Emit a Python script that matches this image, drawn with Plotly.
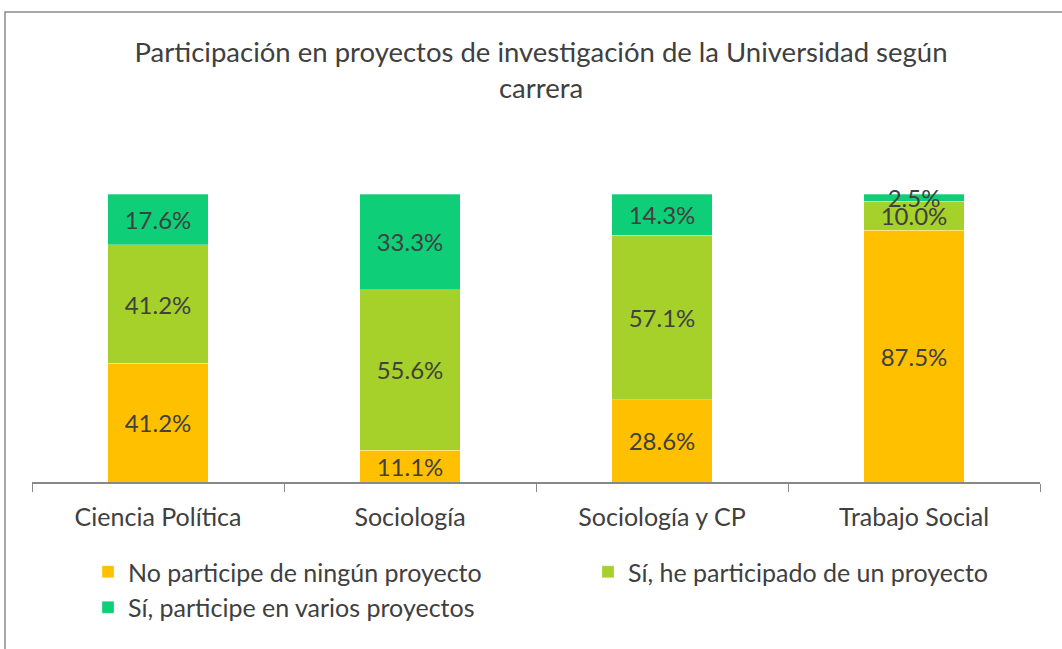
import plotly.graph_objects as go

categories = ["Ciencia Política", "Sociología", "Sociología y CP", "Trabajo Social"]
series_names = ["No participe de ningún proyecto",
                "Sí, he participado de un proyecto",
                "Sí, participe en varios proyectos"]
no_participe = [41.2, 11.1, 28.6, 87.5]
un_proyecto = [41.2, 55.6, 57.1, 10.0]
varios = [17.6, 33.3, 14.3, 2.5]
colors = ["#FFC000", "#A5D12A", "#0ECE78"]

W, H = 1062, 649
L, R, T, B = 32, 1040, 194, 482
pw, ph = R - L, B - T

fig = go.Figure()
for name, vals, col in zip(series_names, [no_participe, un_proyecto, varios], colors):
    fig.add_trace(go.Bar(
        x=categories, y=vals, name=name,
        marker=dict(color=col, line=dict(color="rgba(255,255,255,0.6)", width=0.5)),
        text=[f"{v:.1f}%" for v in vals],
        textposition="inside", insidetextanchor="middle",
        constraintext="none", cliponaxis=False,
        textfont=dict(family="Lato", size=24, color="#404040"),
        hoverinfo="skip",
    ))

def px_x(p):
    return (p - L) / pw

def px_y(p):
    return (B - p) / ph

fig.update_layout(
    width=W, height=H,
    barmode="stack", bargap=0.603,
    margin=dict(l=L, r=W - R, t=T, b=H - B, autoexpand=False),
    paper_bgcolor="white", plot_bgcolor="white",
    title=dict(
        text="Participación en proyectos de investigación de la Universidad según<br>carrera",
        x=541 / W, xanchor="center", xref="container",
        y=1 - 62 / H, yanchor="top", yref="container",
        font=dict(family="Lato", size=27.5, color="#404040"),
    ),
    xaxis=dict(
        showline=True, linecolor="#888888", linewidth=1.5,
        ticks="outside", tickson="boundaries", ticklen=8, tickcolor="#888888",
        tickfont=dict(family="Lato", size=25, color="#404040"),
        ticklabelstandoff=12, showgrid=False,
    ),
    yaxis=dict(range=[0, 100], visible=False, showgrid=False),
    legend=dict(
        orientation="h", xref="container", x=88 / W, xanchor="left",
        yref="container", y=1 - 549 / H, yanchor="top",
        entrywidth=455, entrywidthmode="pixels",
        font=dict(family="Lato", size=25, color="#404040"),
        traceorder="normal",
    ),
    shapes=[dict(
        type="rect", xref="paper", yref="paper",
        x0=px_x(5), x1=px_x(1075), y0=px_y(670), y1=px_y(12),
        line=dict(color="#8C8C8C", width=1.5), fillcolor="rgba(0,0,0,0)", layer="below",
    )],
)

fig.write_html("out.html", config={"displayModeBar": False},
               post_script="document.body.style.margin='0';")
